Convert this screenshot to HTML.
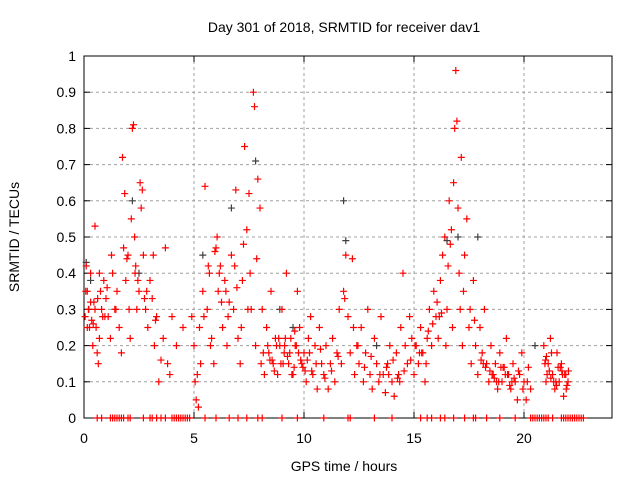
<!DOCTYPE html>
<html><head><meta charset="utf-8"><style>
body{margin:0;background:#fff}
svg{display:block;font-family:"Liberation Sans",sans-serif}
</style></head><body>
<svg id="chart" width="640" height="480" viewBox="0 0 640 480">
<text x="344" y="32" font-size="14" text-anchor="middle">Day 301 of 2018, SRMTID for receiver dav1</text>
<text x="344" y="471" font-size="14" text-anchor="middle">GPS time / hours</text>
<text transform="translate(19,237) rotate(-90)" font-size="14" text-anchor="middle">SRMTID / TECUs</text>
<g id="grid"></g>
<g id="axes"></g>
<g id="gray"></g>
<g id="red"></g>
</svg>
<script>
const xTicks=[0,5,10,15,20];
const yTicks=[0,0.1,0.2,0.3,0.4,0.5,0.6,0.7,0.8,0.9,1];
const yTickLabels=["0","0.1","0.2","0.3","0.4","0.5","0.6","0.7","0.8","0.9","1"];
const redT=[0.05,0.1,0.15,0.2,0.25,0.3,0.35,0.4,0.45,0.5,0.55,0.6,0.65,0.7,0.75,0.8,0.9,1.0,1.1,1.2,1.3,1.4,1.5,1.6,1.7,1.75,1.8,1.85,1.9,2.0,2.05,2.1,2.15,2.2,2.25,2.3,2.35,2.4,2.5,2.55,2.6,2.65,2.7,2.8,2.9,3.0,3.1,3.2,3.3,3.4,3.5,3.6,3.7,3.8,3.9,4.0,4.2,4.5,4.9,5.0,5.05,5.1,5.15,5.2,5.3,5.4,5.5,5.6,5.7,5.8,5.9,6.0,6.05,6.1,6.2,6.3,6.4,6.5,6.6,6.7,6.8,6.9,7.0,7.1,7.2,7.3,7.4,7.5,7.6,7.7,7.75,7.8,7.9,8.0,8.05,8.1,8.2,8.3,8.4,8.5,8.6,8.7,8.8,8.9,9.0,9.1,9.2,9.3,9.4,9.5,9.6,9.7,9.8,9.9,10.0,10.1,10.2,10.3,10.4,10.5,10.6,10.7,10.8,10.9,11.0,11.1,11.2,11.3,11.4,11.5,11.6,11.7,11.8,11.9,12.0,12.1,12.2,12.3,12.4,12.5,12.6,12.7,12.8,12.9,13.0,13.1,13.2,13.3,13.4,13.5,13.6,13.7,13.8,13.9,14.0,14.1,14.2,14.3,14.4,14.5,14.6,14.7,14.8,14.9,15.0,15.1,15.2,15.3,15.4,15.5,15.6,15.7,15.8,15.9,16.0,16.1,16.2,16.3,16.4,16.5,16.6,16.7,16.8,16.85,16.9,16.95,17.0,17.05,17.1,17.15,17.2,17.3,17.4,17.5,17.6,17.7,17.8,17.9,18.0,18.1,18.2,18.3,18.4,18.5,18.6,18.7,18.8,18.9,19.0,19.1,19.2,19.3,19.4,19.5,19.6,19.7,19.8,19.9,20.0,20.1,20.2,20.3,20.9,21.0,21.1,21.2,21.3,21.4,21.5,21.6,21.7,21.8,21.9,22.0,
0.15,0.3,0.5,0.7,0.95,1.25,2.45,2.75,3.15,5.45,5.75,6.15,6.45,6.85,7.15,7.45,8.15,8.45,8.75,9.05,9.15,9.35,9.55,9.65,9.85,10.05,10.25,12.25,13.85,14.35,15.25,15.55,16.15,16.45,16.75,18.15,18.55,18.75,19.05,19.25,19.45,20.95,21.05,21.25,21.45,21.65,21.85,21.95,
0.08,0.22,0.42,0.62,0.85,1.05,1.45,1.95,2.32,2.85,3.25,5.25,5.65,5.95,6.25,6.55,6.95,7.25,7.55,7.85,8.35,8.55,8.65,8.85,8.95,9.12,9.25,9.45,9.58,9.75,9.95,10.15,10.35,10.55,10.75,10.95,11.25,11.55,11.85,12.45,12.75,13.05,13.45,13.75,14.05,14.25,14.55,14.85,15.05,15.35,15.65,15.85,16.05,16.25,16.55,16.65,17.25,17.55,17.75,18.05,18.25,18.45,18.65,18.85,18.95,19.15,19.35,19.55,19.75,19.95,20.15,21.02,21.15,21.35,21.55,21.75,21.92,22.02,20.98,21.22,21.48,21.72];
const redV=[0.28,0.42,0.35,0.3,0.25,0.4,0.27,0.2,0.32,0.53,0.25,0.18,0.15,0.4,0.35,0.3,0.38,0.33,0.28,0.22,0.4,0.3,0.35,0.25,0.18,0.72,0.47,0.62,0.38,0.45,0.3,0.22,0.55,0.8,0.81,0.5,0.42,0.3,0.35,0.65,0.58,0.63,0.45,0.3,0.25,0.38,0.33,0.2,0.28,0.1,0.16,0.22,0.47,0.15,0.12,0.28,0.2,0.25,0.28,0.2,0.1,0.05,0.12,0.03,0.15,0.35,0.64,0.3,0.4,0.22,0.15,0.47,0.5,0.35,0.42,0.25,0.38,0.2,0.32,0.45,0.3,0.63,0.22,0.15,0.38,0.75,0.52,0.62,0.3,0.9,0.86,0.2,0.66,0.58,0.15,0.3,0.12,0.25,0.18,0.35,0.15,0.22,0.12,0.2,0.3,0.18,0.4,0.15,0.22,0.12,0.2,0.35,0.25,0.15,0.18,0.1,0.22,0.28,0.12,0.2,0.08,0.25,0.15,0.12,0.2,0.08,0.15,0.22,0.1,0.18,0.3,0.15,0.35,0.45,0.28,0.18,0.44,0.12,0.2,0.15,0.25,0.1,0.18,0.3,0.12,0.08,0.22,0.15,0.1,0.28,0.12,0.07,0.15,0.2,0.1,0.06,0.18,0.12,0.25,0.4,0.2,0.15,0.28,0.22,0.12,0.2,0.15,0.25,0.18,0.1,0.22,0.3,0.2,0.35,0.28,0.22,0.38,0.45,0.5,0.3,0.6,0.52,0.65,0.8,0.96,0.82,0.58,0.4,0.3,0.72,0.2,0.45,0.55,0.25,0.15,0.38,0.2,0.12,0.25,0.18,0.3,0.15,0.1,0.2,0.12,0.15,0.08,0.18,0.1,0.14,0.22,0.12,0.08,0.15,0.1,0.05,0.12,0.18,0.1,0.05,0.14,0.08,0.2,0.1,0.15,0.22,0.12,0.08,0.18,0.1,0.15,0.06,0.12,0.1,
0.25,0.32,0.3,0.22,0.28,0.45,0.38,0.33,0.45,0.28,0.2,0.4,0.35,0.42,0.25,0.3,0.18,0.16,0.2,0.15,0.22,0.18,0.14,0.2,0.16,0.13,0.18,0.25,0.12,0.1,0.18,0.15,0.28,0.2,0.25,0.15,0.12,0.1,0.14,0.12,0.1,0.15,0.12,0.18,0.1,0.14,0.12,0.09,
0.35,0.3,0.26,0.33,0.28,0.36,0.3,0.44,0.4,0.35,0.27,0.25,0.42,0.46,0.32,0.28,0.36,0.48,0.4,0.44,0.2,0.16,0.13,0.22,0.15,0.2,0.17,0.12,0.24,0.18,0.14,0.16,0.13,0.15,0.19,0.11,0.13,0.17,0.33,0.2,0.14,0.17,0.12,0.14,0.16,0.11,0.13,0.16,0.2,0.18,0.24,0.26,0.32,0.29,0.42,0.48,0.35,0.3,0.27,0.16,0.14,0.13,0.11,0.1,0.14,0.12,0.09,0.11,0.13,0.08,0.1,0.17,0.13,0.1,0.14,0.12,0.08,0.13,0.16,0.11,0.09,0.13];
const grayT=[0.1,0.3,2.2,2.5,5.4,6.7,7.8,8.9,9.5,11.8,11.9,13.3,16.5,17.0,17.9,20.5];
const grayV=[0.43,0.38,0.6,0.4,0.45,0.58,0.71,0.3,0.25,0.6,0.49,0.2,0.49,0.5,0.5,0.2];
const zeroT=[0.6,0.8,1.2,1.3,1.4,1.5,1.6,1.7,1.8,2.0,2.1,2.7,3.0,3.1,3.3,3.5,3.7,4.0,4.1,4.2,4.3,4.4,4.5,4.6,4.7,4.8,5.5,6.0,6.6,7.0,7.4,7.9,8.1,9.0,9.7,10.9,12.0,12.1,13.2,14.0,15.3,15.6,15.8,16.2,16.4,16.8,17.3,17.7,17.8,18.3,18.9,19.6,20.3,20.4,20.5,20.6,20.7,20.8,20.9,21.0,21.1,21.3,21.7,21.8,21.9,22.0,22.1,22.2,22.3,22.4,22.5,22.6,22.7];
const X0=84,X1=612,Y0=418,Y1=56,XMAX=24;
const xs=t=>X0+(X1-X0)*t/XMAX, ys=v=>Y0-(Y0-Y1)*v;
const NS="http://www.w3.org/2000/svg";
function mk(tag,at,parent){const e=document.createElementNS(NS,tag);for(const k in at)e.setAttribute(k,at[k]);parent.appendChild(e);return e;}
const grid=document.getElementById('grid'),axes=document.getElementById('axes');
yTicks.forEach((v,i)=>{
 if(i>0&&i<yTicks.length-1){const g=mk('line',{x1:X0,x2:X1,y1:ys(v),y2:ys(v),stroke:'#a0a0a0','stroke-dasharray':'3,3'},grid);
 
 }
 const t=mk('text',{x:X0-8,y:ys(v)+5,'font-size':14,'text-anchor':'end'},axes);t.textContent=yTickLabels[i];
 
 
 mk('line',{x1:X0,x2:X0+6,y1:ys(v),y2:ys(v),stroke:'#000'},axes);
 mk('line',{x1:X1,x2:X1-6,y1:ys(v),y2:ys(v),stroke:'#000'},axes);
});
xTicks.forEach(v=>{
 if(v>0){const g=mk('line',{x1:xs(v),x2:xs(v),y1:Y0,y2:Y1,stroke:'#a0a0a0','stroke-dasharray':'3,3'},grid);
 
 }
 const t=mk('text',{x:xs(v),y:Y0+25,'font-size':14,'text-anchor':'middle'},axes);t.textContent=String(v);
 
 
 mk('line',{x1:xs(v),x2:xs(v),y1:Y0,y2:Y0-6,stroke:'#000'},axes);
 mk('line',{x1:xs(v),x2:xs(v),y1:Y1,y2:Y1+6,stroke:'#000'},axes);
});
const fr=mk('rect',{x:X0,y:Y1,width:X1-X0,height:Y0-Y1,fill:'none',stroke:'#000'},axes);


function plus(g,t,v,c){const x=xs(t),y=ys(v);
 const p=mk('path',{d:`M${x-3.5} ${y}H${x+3.5}M${x} ${y-3.5}V${y+3.5}`,stroke:c,'stroke-width':1.2,fill:'none'},g);
 
 }
const gg=document.getElementById('gray'),rg=document.getElementById('red');
grayT.forEach((t,i)=>plus(gg,t,grayV[i],'#404040'));
redT.forEach((t,i)=>plus(rg,t,redV[i],'#ff0000'));
zeroT.forEach(t=>plus(rg,t,0,'#ff0000'));
</script>
</body></html>
